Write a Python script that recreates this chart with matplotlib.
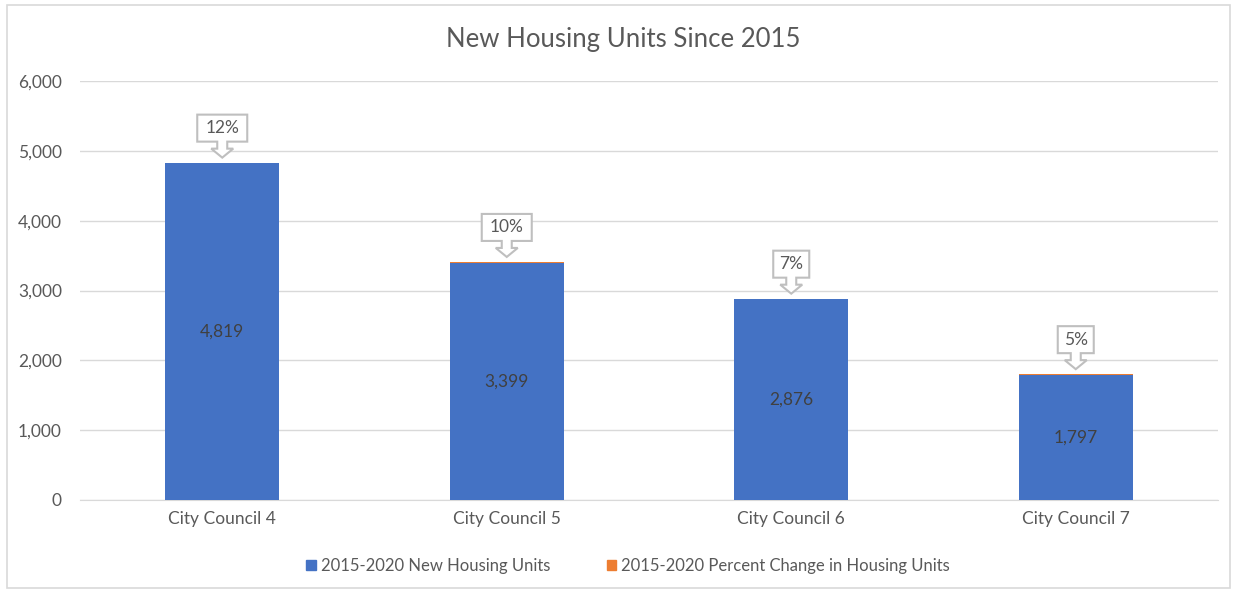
import numpy as np
import matplotlib
matplotlib.use('Agg')
import matplotlib.pyplot as plt
from matplotlib.patches import Polygon, Rectangle
from matplotlib.transforms import ScaledTranslation

categories = ['City Council 4', 'City Council 5', 'City Council 6', 'City Council 7']
new_units = [4819, 3399, 2876, 1797]
pct_change = [12, 10, 7, 5]
pct_labels = ['12%', '10%', '7%', '5%']

BLUE = '#4472C4'
ORANGE = '#ED7D31'
TXT = '#595959'
GRID = '#D9D9D9'

plt.rcParams['font.family'] = ['Lato', 'DejaVu Sans']

fig = plt.figure(figsize=(12.35, 5.91), dpi=100)
ax = fig.add_axes([80 / 1235, 1 - 500 / 591, 1138 / 1235, 419 / 591])

x = np.arange(len(categories))
ax.bar(x, new_units, width=0.4, color=BLUE, zorder=3)
ax.bar(x, pct_change, width=0.4, bottom=new_units, color=ORANGE, zorder=3)

for xi, v in zip(x, new_units):
    ax.text(xi, v / 2, f'{v:,}', ha='center', va='center', fontsize=12.5,
            color='#404040', zorder=4)

# callout boxes above each bar (geometry in pixels, anchored at bar top)
for xi, v, p, lab in zip(x, new_units, pct_change, pct_labels):
    hw = 25 if len(lab) > 2 else 18
    tip = 5
    pts = [(-hw, tip + 16), (-5, tip + 16), (-5, tip + 9), (-11, tip + 9),
           (0, tip), (11, tip + 9), (5, tip + 9), (5, tip + 16), (hw, tip + 16),
           (hw, tip + 43), (-hw, tip + 43)]
    pts = [(a / 100, b / 100) for a, b in pts]
    trans = fig.dpi_scale_trans + ScaledTranslation(xi, v + p, ax.transData)
    ax.add_patch(Polygon(pts, closed=True, transform=trans, facecolor='white',
                         edgecolor='#BFBFBF', linewidth=1.5, zorder=5,
                         clip_on=False))
    ax.text(0, (tip + 29.5) / 100, lab, transform=trans, ha='center', va='center',
            fontsize=12.5, color=TXT, zorder=6)

ax.set_xlim(-0.5, 3.5)
ax.set_ylim(0, 6000)
ax.set_yticks(np.arange(0, 6001, 1000))
ax.yaxis.set_major_formatter(matplotlib.ticker.FuncFormatter(lambda v, _: f'{int(v):,}'))
ax.set_xticks(x)
ax.set_xticklabels(categories)
ax.grid(axis='y', color=GRID, linewidth=1, zorder=0)
ax.tick_params(axis='both', length=0, labelsize=12.5, labelcolor=TXT)
ax.tick_params(axis='y', pad=13)
ax.tick_params(axis='x', pad=8)
for s in ['top', 'right', 'left']:
    ax.spines[s].set_visible(False)
ax.spines['bottom'].set_color(GRID)

fig.text(0.505, 1 - 40 / 591, 'New Housing Units Since 2015', ha='center',
         va='center', fontsize=18.5, color=TXT)

handles = [Rectangle((0, 0), 1, 1, color=BLUE), Rectangle((0, 0), 1, 1, color=ORANGE)]
fig.legend(handles, ['2015-2020 New Housing Units',
                     '2015-2020 Percent Change in Housing Units'],
           loc='center', bbox_to_anchor=(628 / 1235, 1 - 566 / 591), ncol=2,
           frameon=False, fontsize=12, labelcolor=TXT, handlelength=0.55,
           handleheight=0.55, handletextpad=0.3, columnspacing=3.4)

fig.patches.append(Rectangle((7 / 1235, 3 / 591), 1223 / 1235, 583 / 591,
                             transform=fig.transFigure, fill=False,
                             edgecolor='#D9D9D9', linewidth=1.2))

fig.savefig('out.png', dpi=100)
